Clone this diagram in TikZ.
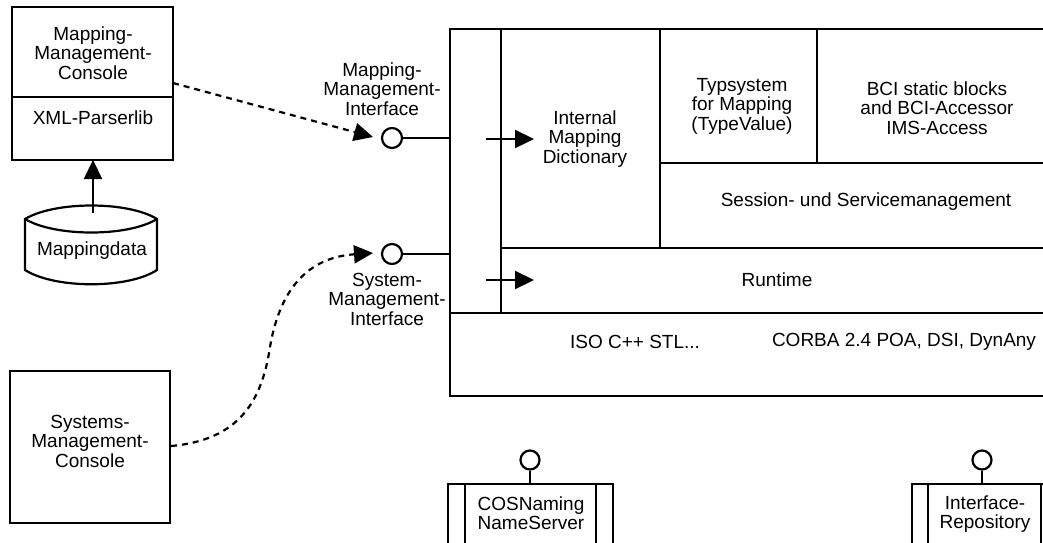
\documentclass[tikz,border=0pt]{standalone}
\usepackage{fontspec}
\setmainfont{Liberation Sans}
\usetikzlibrary{arrows.meta}
\begin{document}
\begin{tikzpicture}[x=1pt,y=-1pt,line width=2.2pt,
  txt/.style={font=\fontsize{19}{19.5}\selectfont,align=center,inner sep=0pt},
  tipped/.style={-{Triangle[length=19pt,width=18pt]}},
  dsh/.style={dash pattern=on 6pt off 5pt},
  iface/.style={circle,draw,fill=white,minimum size=20pt,inner sep=0pt,line width=2.2pt}]
\useasboundingbox (0,0) rectangle (1043,542);
\begin{scope}
\clip (0,0) rectangle (1043,542);

% Mapping-Management-Console
\draw (12,7) rectangle (173,160);
\draw (12,97) -- (173,97);
\node[txt] (mmc) at (93,53) {Mapping-\\Management-\\Console};
\node[txt] (xml) at (93,118) {XML-Parserlib};
\coordinate (mmcbot) at (93,160);
\coordinate (mmcr) at (173,83);

% Mappingdata
\draw (25,219) .. controls (55,201) and (128,201) .. (157,219) -- (157,270)
      .. controls (128,289) and (55,289) .. (25,270) -- cycle;
\draw (25,219) .. controls (55,237) and (128,237) .. (157,219);
\node[txt] (md) at (92,251) {Mappingdata};
\coordinate (mdtop) at (93,213);
\draw[tipped] (mdtop) -- (mmcbot);

% Systems-Management-Console
\draw (10,371) rectangle (170,523);
\node[txt] (smc) at (90,441) {Systems-\\Management-\\Console};
\coordinate (smcr) at (171,446);

% interfaces
\node[iface] (mmi) at (392,138) {};
\node[iface] (smi) at (392,254) {};
\node[txt] (mmil) at (382,89) {Mapping-\\Management-\\Interface};
\node[txt] (smil) at (387,299) {System-\\Management-\\Interface};
\coordinate (mmiin) at (373,137);
\coordinate (smiin) at (373,253);
\coordinate (blk1) at (450,138);
\coordinate (blk2) at (450,254);
\draw (mmi.east) -- (blk1);
\draw (smi.east) -- (blk2);
\draw[tipped,dsh] (mmcr) -- (mmiin);
\draw[tipped,dsh] (smcr) .. controls (240,440) and (262,400) .. (270,347)
      .. controls (278,300) and (300,258) .. (smiin);

% main block
\draw (450,29) rectangle (1070,396);
\draw (501,29) -- (501,313);
\draw (450,313) -- (1070,313);
\draw (501,248) -- (1070,248);
\draw (660,29) -- (660,248);
\draw (660,163) -- (1070,163);
\draw (817,29) -- (817,163);
\node[txt] (imd) at (585,139) {Internal\\Mapping\\Dictionary};
\node[txt] (typ) at (742,106) {Typsystem\\for Mapping\\(TypeValue)};
\node[txt] (bci) at (937,108) {BCI static blocks\\and BCI-Accessor\\IMS-Access};
\node[txt] (ses) at (866,202) {Session- und Servicemanagement};
\node[txt] (run) at (777,280) {Runtime};
\node[txt] (iso) at (635,342) {ISO C++ STL...};
\node[txt] (cor) at (904,342) {CORBA 2.4 POA, DSI, DynAny};
\coordinate (a1s) at (486,139);
\coordinate (a1e) at (534,139);
\coordinate (a2s) at (486,280);
\coordinate (a2e) at (534,280);
\draw[tipped] (a1s) -- (a1e);
\draw[tipped] (a2s) -- (a2e);

% COSNaming
\draw (448,484) rectangle (613,560);
\draw (465,484) -- (465,560);
\draw (596,484) -- (596,560);
\node[iface,minimum size=19pt] (cosi) at (530,460) {};
\coordinate (costop) at (530,484);
\draw (cosi) -- (costop);
\node[txt] (cos) at (531,513) {COSNaming\\NameServer};

% Interface-Repository
\draw (912,484) rectangle (1057,560);
\draw (928,484) -- (928,560);
\draw (1041,484) -- (1041,560);
\node[iface,minimum size=19pt] (iri) at (982,460) {};
\coordinate (irtop) at (982,484);
\draw (iri) -- (irtop);
\node[txt] (ir) at (985,514) {Interface-\\Repository};
\end{scope}
\end{tikzpicture}
\end{document}
